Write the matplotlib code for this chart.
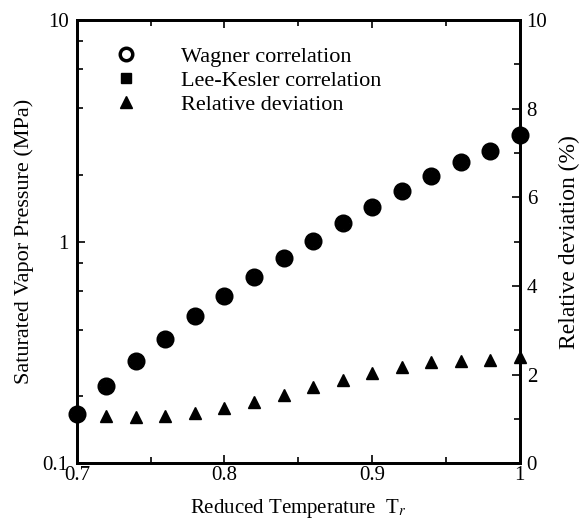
import numpy as np
import matplotlib.pyplot as plt
from matplotlib.ticker import LogLocator, FixedLocator, FuncFormatter, MultipleLocator
from matplotlib.lines import Line2D

# reduced temperature
tr = [0.70, 0.72, 0.74, 0.76, 0.78, 0.80, 0.82, 0.84,
      0.86, 0.88, 0.90, 0.92, 0.94, 0.96, 0.98, 1.00]

# saturated vapor pressure (MPa)
p_wagner = [0.166, 0.223, 0.288, 0.363, 0.461, 0.568, 0.692, 0.843,
            1.005, 1.21, 1.43, 1.69, 1.98, 2.29, 2.56, 3.03]
p_leekesler = [0.166, 0.223, 0.288, 0.363, 0.461, 0.568, 0.692, 0.843,
               1.005, 1.21, 1.43, 1.69, 1.98, 2.29, 2.56, 3.03]

# relative deviation (%)
rel_dev = [None, 1.06, 1.04, 1.06, 1.13, 1.24, 1.38, 1.53,
           1.72, 1.87, 2.03, 2.17, 2.28, 2.30, 2.33, 2.39]

plt.rcParams['font.family'] = ['Liberation Serif', 'DejaVu Serif']
plt.rcParams['mathtext.fontset'] = 'stix'

fig = plt.figure(figsize=(5.82, 5.24), dpi=100)
ax = fig.add_axes([0.132, 0.116, 0.761, 0.846])
ax2 = ax.twinx()

ax.set_yscale('log')
ax.set_xlim(0.7, 1.0)
ax.set_ylim(0.1, 10)
ax2.set_ylim(0, 10)

# pressure markers
ax.plot(tr, p_wagner, 'o', ms=10.5, mfc='white', mec='black', mew=2.5, zorder=3, clip_on=False)
ax.plot(tr, p_leekesler, 's', ms=7, mfc='black', mec='black', zorder=4, clip_on=False)

# deviation markers
dev_x = [t for t, d in zip(tr, rel_dev) if d is not None]
dev_y = [d for d in rel_dev if d is not None]
ax2.plot(dev_x, dev_y, '^', ms=9, color='black', clip_on=False)

# ticks
ax.xaxis.set_major_locator(FixedLocator([0.7, 0.8, 0.9, 1.0]))
ax.xaxis.set_minor_locator(MultipleLocator(0.05))
ax.xaxis.set_major_formatter(FuncFormatter(lambda v, p: f'{v:g}'))
ax.yaxis.set_major_locator(LogLocator(base=10, numticks=5))
ax.yaxis.set_minor_locator(LogLocator(base=10, subs=[2, 4, 6, 8], numticks=10))
ax.yaxis.set_major_formatter(FuncFormatter(lambda v, p: f'{v:g}'))
ax.yaxis.set_minor_formatter(FuncFormatter(lambda v, p: ''))
ax2.yaxis.set_major_locator(MultipleLocator(2))
ax2.yaxis.set_minor_locator(MultipleLocator(1))

ax.tick_params(axis='x', which='both', direction='in', top=True, labelsize=15, pad=2)
ax.tick_params(axis='y', which='both', direction='in', right=False, labelsize=15, pad=6)
ax.tick_params(which='major', length=6, width=1.2)
ax.tick_params(which='minor', length=4, width=1.2)
ax2.tick_params(axis='y', which='both', direction='in', labelsize=15, pad=5)
ax2.tick_params(which='major', length=6, width=1.2)
ax2.tick_params(which='minor', length=4, width=1.2)

for a in (ax, ax2):
    for s in a.spines.values():
        s.set_linewidth(2)

ax.set_xlabel('Reduced Temperature  T$_r$', fontsize=15, labelpad=9)
ax.set_ylabel('Saturated Vapor Pressure (MPa)', fontsize=16, labelpad=6)
ax2.set_ylabel('Relative deviation (%)', fontsize=17, labelpad=8)

handles = [
    Line2D([], [], ls='none', marker='o', ms=9, mfc='white', mec='black', mew=2.5),
    Line2D([], [], ls='none', marker='s', ms=7, mfc='black', mec='black'),
    Line2D([], [], ls='none', marker='^', ms=9, color='black'),
]
labels = ['Wagner correlation', 'Lee-Kesler correlation', 'Relative deviation']
ax2.legend(handles, labels, loc='upper left', bbox_to_anchor=(0.04, 0.985),
           frameon=False, fontsize=16, handlelength=1.0, handletextpad=2.0,
           labelspacing=0.15)

fig.savefig('out.png', dpi=100)
